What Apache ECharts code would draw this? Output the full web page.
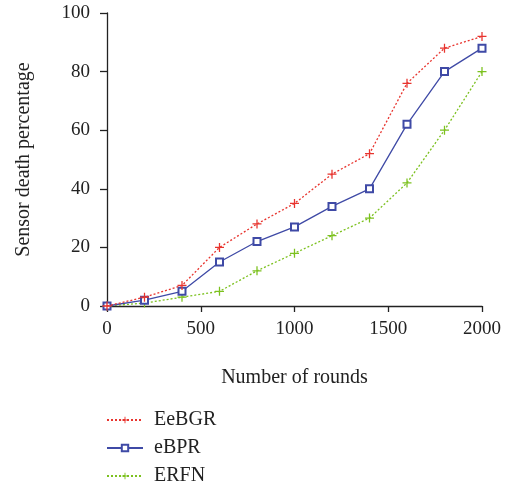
<!DOCTYPE html>
<html>
<head>
<meta charset="utf-8">
<script src="https://cdn.jsdelivr.net/npm/echarts@6/dist/echarts.min.js"></script>
<style>
  html, body { margin: 0; padding: 0; background: #fff; }
  #main { width: 505px; height: 487px; }
</style>
</head>
<body>
<div id="main"></div>
<script>
// rounds on the x axis
var rounds = [0, 200, 400, 600, 800, 1000, 1200, 1400, 1600, 1800, 2000];
// sensor death percentage per protocol
var eebgr = [0, 3, 7, 20, 28, 35, 45, 52, 76, 88, 92];
var ebpr = [0, 2, 5, 15, 22, 27, 34, 40, 62, 80, 88];
var erfn = [0, 1, 3, 5, 12, 18, 24, 30, 42, 60, 80];

var plus = 'path://M4.3,0 H5.7 V4.3 H10 V5.7 H5.7 V10 H4.3 V5.7 H0 V4.3 H4.3 Z';
var fontFam = '"Liberation Serif", "DejaVu Serif", serif';

var pairs = function(ys) {
    return rounds.map(function(x, i) { return [x, ys[i]]; });
};

var chart = echarts.init(document.getElementById('main'));
var option = {
    animation: false,
    textStyle: { fontFamily: fontFam },
    grid: { left: 107, right: 23, top: 13, bottom: 181, outerBoundsMode: 'none' },
    legend: {
        orient: 'vertical',
        left: 106,
        top: 410,
        padding: 0,
        itemWidth: 36,
        itemHeight: 8,
        itemGap: 8,
        textStyle: { fontFamily: fontFam, fontSize: 20, color: '#222', padding: [0, 0, 0, 6] },
        data: ['EeBGR', 'eBPR', 'ERFN']
    },
    xAxis: {
        type: 'value',
        min: 0, max: 2000, interval: 500,
        name: 'Number of rounds',
        nameLocation: 'middle',
        nameGap: 62,
        nameTextStyle: { fontFamily: fontFam, fontSize: 20, color: '#222' },
        axisLine: { lineStyle: { color: '#222', width: 1.3 } },
        axisTick: { show: true, length: 6, lineStyle: { color: '#222', width: 1.3 } },
        axisLabel: {
            fontFamily: fontFam, fontSize: 19, color: '#222', margin: 14,
            formatter: function(v) { return String(v); }
        },
        splitLine: { show: false }
    },
    yAxis: {
        type: 'value',
        min: 0, max: 100, interval: 20,
        name: 'Sensor death percentage',
        nameLocation: 'middle',
        nameGap: 73,
        nameTextStyle: { fontFamily: fontFam, fontSize: 20, color: '#222' },
        axisLine: { show: true, lineStyle: { color: '#222', width: 1.3 } },
        axisTick: { show: true, length: 7, lineStyle: { color: '#222', width: 1.3 } },
        axisLabel: { fontFamily: fontFam, fontSize: 19, color: '#222', margin: 17 },
        splitLine: { show: false }
    },
    series: [
        {
            name: 'EeBGR', type: 'line', data: pairs(eebgr),
            symbol: plus, symbolSize: 9, z: 3,
            lineStyle: { color: '#e8342e', width: 1.3, type: [2, 2] },
            itemStyle: { color: '#e8342e' }
        },
        {
            name: 'eBPR', type: 'line', data: pairs(ebpr),
            symbol: 'emptyRect', symbolSize: 7, z: 2,
            lineStyle: { color: '#3f4aa6', width: 1.3 },
            itemStyle: { color: '#3f4aa6', borderWidth: 1.3 }
        },
        {
            name: 'ERFN', type: 'line', data: pairs(erfn),
            symbol: plus, symbolSize: 9, z: 1,
            lineStyle: { color: '#7cc11f', width: 1.3, type: [2, 2] },
            itemStyle: { color: '#7cc11f' }
        }
    ]
};
chart.setOption(option);
</script>
</body>
</html>
